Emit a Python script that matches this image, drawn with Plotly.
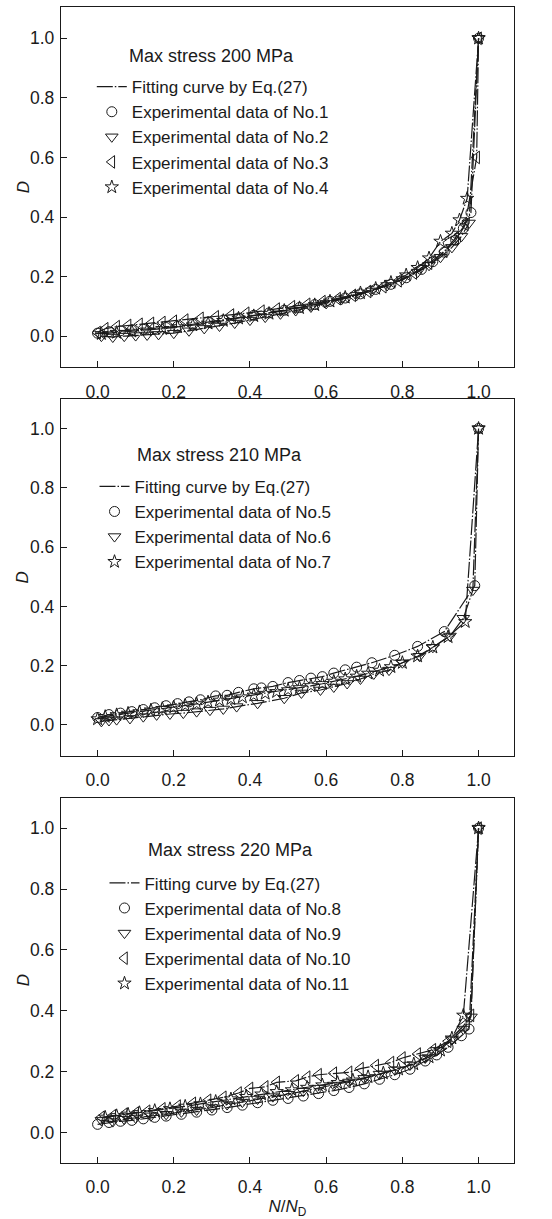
import plotly.graph_objects as go

# ---------------- data ----------------
# Panel 1: max stress 200 MPa
x_no1 = [0.00,0.03,0.06,0.09,0.12,0.15,0.18,0.21,0.25,0.29,0.33,0.37,0.41,0.45,0.49,0.53,0.57,0.61,0.65,0.69,0.73,0.77,0.81,0.85,0.88,0.91,0.94,0.96,0.98,1.00]
d_no1 = [0.010,0.015,0.018,0.020,0.023,0.026,0.029,0.033,0.040,0.047,0.054,0.061,0.070,0.078,0.087,0.096,0.106,0.117,0.128,0.142,0.157,0.174,0.196,0.224,0.250,0.282,0.322,0.362,0.415,1.00]
x_no2 = [0.01,0.04,0.07,0.10,0.13,0.16,0.20,0.24,0.28,0.32,0.36,0.40,0.44,0.48,0.52,0.56,0.60,0.64,0.68,0.72,0.76,0.80,0.84,0.87,0.90,0.93,0.955,0.975,1.00]
d_no2 = [0.000,-0.003,0.000,0.002,0.004,0.006,0.010,0.018,0.026,0.034,0.044,0.054,0.064,0.075,0.086,0.098,0.110,0.123,0.137,0.152,0.170,0.190,0.215,0.238,0.265,0.298,0.335,0.380,1.00]
x_no3 = [0.00,0.02,0.05,0.08,0.11,0.14,0.17,0.20,0.23,0.27,0.31,0.35,0.39,0.43,0.47,0.51,0.55,0.59,0.63,0.67,0.71,0.75,0.79,0.83,0.87,0.91,0.94,0.965,0.995,1.00]
d_no3 = [0.012,0.025,0.032,0.036,0.040,0.043,0.046,0.050,0.054,0.060,0.065,0.071,0.077,0.084,0.091,0.099,0.107,0.116,0.126,0.137,0.150,0.166,0.186,0.212,0.245,0.285,0.330,0.375,0.600,1.00]
x_no4 = [0.01,0.05,0.09,0.13,0.17,0.21,0.25,0.29,0.33,0.37,0.41,0.45,0.49,0.53,0.57,0.61,0.65,0.69,0.73,0.77,0.81,0.84,0.87,0.90,0.93,0.95,0.97,1.00]
d_no4 = [0.008,0.012,0.016,0.020,0.025,0.031,0.037,0.043,0.052,0.060,0.068,0.076,0.086,0.095,0.105,0.117,0.130,0.145,0.160,0.180,0.205,0.230,0.262,0.318,0.345,0.390,0.462,1.00]

# Panel 2: max stress 210 MPa
x_no5 = [0.00,0.03,0.06,0.09,0.12,0.15,0.18,0.21,0.24,0.27,0.31,0.34,0.37,0.41,0.43,0.46,0.50,0.53,0.56,0.59,0.62,0.65,0.68,0.72,0.78,0.84,0.91,0.99,1.00]
d_no5 = [0.025,0.035,0.040,0.045,0.052,0.058,0.065,0.072,0.078,0.085,0.098,0.100,0.110,0.122,0.125,0.130,0.143,0.150,0.158,0.163,0.175,0.186,0.195,0.210,0.235,0.265,0.315,0.470,1.00]
x_no6 = [0.01,0.03,0.05,0.085,0.12,0.155,0.19,0.225,0.26,0.295,0.33,0.365,0.42,0.49,0.535,0.585,0.62,0.655,0.69,0.725,0.765,0.80,0.845,0.88,0.925,0.96,0.985,1.00]
d_no6 = [0.012,0.015,0.018,0.022,0.028,0.034,0.037,0.040,0.045,0.050,0.054,0.062,0.073,0.090,0.108,0.118,0.128,0.140,0.155,0.172,0.185,0.210,0.232,0.262,0.300,0.360,0.455,1.00]
x_no7 = [0.00,0.02,0.05,0.08,0.11,0.14,0.17,0.20,0.23,0.26,0.29,0.32,0.35,0.38,0.41,0.44,0.47,0.50,0.53,0.56,0.59,0.62,0.65,0.68,0.71,0.74,0.77,0.80,0.84,0.88,0.92,0.965,1.00]
d_no7 = [0.020,0.028,0.034,0.039,0.044,0.050,0.055,0.060,0.066,0.071,0.077,0.083,0.088,0.094,0.100,0.106,0.112,0.118,0.125,0.132,0.139,0.147,0.155,0.164,0.174,0.184,0.196,0.210,0.232,0.262,0.297,0.348,1.00]

# Panel 3: max stress 220 MPa
x_no8 = [0.00,0.03,0.06,0.09,0.12,0.15,0.18,0.22,0.26,0.30,0.34,0.38,0.42,0.46,0.50,0.54,0.58,0.62,0.66,0.70,0.74,0.78,0.82,0.86,0.89,0.92,0.955,0.975,1.00]
d_no8 = [0.027,0.033,0.037,0.040,0.045,0.050,0.054,0.060,0.067,0.074,0.082,0.090,0.098,0.106,0.112,0.120,0.128,0.138,0.148,0.160,0.175,0.190,0.208,0.235,0.255,0.280,0.318,0.340,1.00]
x_no9 = [0.01,0.04,0.07,0.10,0.14,0.18,0.22,0.26,0.30,0.34,0.38,0.42,0.46,0.50,0.54,0.58,0.62,0.66,0.70,0.74,0.78,0.82,0.86,0.89,0.93,0.96,0.98,1.00]
d_no9 = [0.040,0.036,0.044,0.048,0.055,0.060,0.068,0.074,0.082,0.092,0.100,0.110,0.118,0.126,0.136,0.146,0.156,0.166,0.178,0.192,0.206,0.222,0.245,0.270,0.305,0.340,0.380,1.00]
x_no10 = [0.01,0.04,0.07,0.10,0.13,0.17,0.21,0.25,0.29,0.33,0.37,0.40,0.44,0.47,0.52,0.55,0.58,0.62,0.66,0.69,0.73,0.77,0.80,0.84,0.88,0.92,0.96,0.98,1.00]
d_no10 = [0.050,0.055,0.060,0.064,0.070,0.078,0.087,0.096,0.106,0.116,0.130,0.145,0.150,0.165,0.170,0.182,0.190,0.195,0.198,0.210,0.220,0.230,0.245,0.258,0.272,0.300,0.350,0.385,1.00]
x_no11 = [0.02,0.05,0.08,0.11,0.15,0.19,0.23,0.27,0.31,0.35,0.39,0.43,0.47,0.51,0.55,0.59,0.63,0.67,0.71,0.75,0.79,0.83,0.87,0.90,0.93,0.96,1.00]
d_no11 = [0.050,0.055,0.060,0.065,0.072,0.078,0.086,0.094,0.102,0.110,0.118,0.126,0.134,0.140,0.148,0.156,0.164,0.172,0.183,0.195,0.208,0.225,0.248,0.270,0.310,0.385,1.00]

panel_titles = ["Max stress 200 MPa", "Max stress 210 MPa", "Max stress 220 MPa"]
fit_name = "Fitting curve by Eq.(27)"
tick_vals = [0.0, 0.2, 0.4, 0.6, 0.8, 1.0]
tick_text = ["0.0", "0.2", "0.4", "0.6", "0.8", "1.0"]

panels = [
    [("No.1", x_no1, d_no1, "circle-open"),
     ("No.2", x_no2, d_no2, "triangle-down-open"),
     ("No.3", x_no3, d_no3, "triangle-left-open"),
     ("No.4", x_no4, d_no4, "star-open")],
    [("No.5", x_no5, d_no5, "circle-open"),
     ("No.6", x_no6, d_no6, "triangle-down-open"),
     ("No.7", x_no7, d_no7, "star-open")],
    [("No.8", x_no8, d_no8, "circle-open"),
     ("No.9", x_no9, d_no9, "triangle-down-open"),
     ("No.10", x_no10, d_no10, "triangle-left-open"),
     ("No.11", x_no11, d_no11, "star-open")],
]

# ---------------- layout geometry ----------------
W, H = 552, 1219
ML, MR, MT, MB = 61, 38, 6, 52
y_domains = [[0.6882, 1.0], [0.352, 0.661], [0.0, 0.316]]
y_ranges = [[-0.105, 1.105], [-0.105, 1.10], [-0.10, 1.10]]
x_range = [-0.096, 1.093]
legend_pos = [(0.068, 0.9463), (0.074, 0.6005), (0.096, 0.2575)]
title_pos = [(0.146, 0.9578), (0.1635, 0.6125), (0.188, 0.2705)]
ytitle_pos = [0.844, 0.5065, 0.158]
sizes = {"circle-open": 10, "triangle-down-open": 11, "triangle-left-open": 11, "star-open": 10}

FONT = "Liberation Sans, Arial, Helvetica, sans-serif"
INK = "#1a1a1a"

fig = go.Figure()

for i, series in enumerate(panels):
    xa = "x" if i == 0 else f"x{i+1}"
    ya = "y" if i == 0 else f"y{i+1}"
    lg = "legend" if i == 0 else f"legend{i+1}"
    # fitting curves (lines)
    for j, (name, xs, ds, sym) in enumerate(series):
        fig.add_trace(go.Scatter(
            x=xs, y=ds, mode="lines", xaxis=xa, yaxis=ya,
            line=dict(color=INK, width=1.2, dash="16px,2px,1.5px,2px"),
            name=fit_name, legend=lg, showlegend=(j == 0),
            legendrank=1, hoverinfo="skip"))
    # experimental data (markers)
    for j, (name, xs, ds, sym) in enumerate(series):
        fig.add_trace(go.Scatter(
            x=xs, y=ds, mode="markers", xaxis=xa, yaxis=ya,
            marker=dict(symbol=sym, size=sizes[sym], color=INK,
                        line=dict(width=1, color=INK)),
            name=f"Experimental data of {name}", legend=lg,
            legendrank=2 + j))

layout = dict(
    width=W, height=H,
    margin=dict(l=ML, r=MR, t=MT, b=MB),
    paper_bgcolor="white", plot_bgcolor="white",
    font=dict(family=FONT, size=17, color=INK),
    showlegend=True,
)

axis_common = dict(
    showline=True, linecolor=INK, linewidth=1.3, mirror=True,
    ticks="inside", ticklen=6, tickwidth=1.2, tickcolor=INK,
    showgrid=False, zeroline=False,
    tickvals=tick_vals, ticktext=tick_text,
    tickfont=dict(family=FONT, size=17.5, color=INK),
)

for i in range(3):
    xk = "xaxis" if i == 0 else f"xaxis{i+1}"
    yk = "yaxis" if i == 0 else f"yaxis{i+1}"
    ya = "y" if i == 0 else f"y{i+1}"
    xa = "x" if i == 0 else f"x{i+1}"
    xd = dict(axis_common, range=x_range, domain=[0, 1], anchor=ya,
              ticklabelstandoff=8)
    if i == 2:
        xd["title"] = dict(text="<i>N</i>/<i>N</i><sub>D</sub>",
                           font=dict(family=FONT, size=17, color=INK), standoff=4)
    yd = dict(axis_common, range=y_ranges[i], domain=y_domains[i], anchor=xa,
              ticklabelstandoff=2)
    layout[xk] = xd
    layout[yk] = yd
    lk = "legend" if i == 0 else f"legend{i+1}"
    layout[lk] = dict(x=legend_pos[i][0], y=legend_pos[i][1],
                      xanchor="left", yanchor="top",
                      bgcolor="rgba(0,0,0,0)", borderwidth=0,
                      font=dict(family=FONT, size=17, color=INK),
                      traceorder="normal")

fig.update_layout(**layout)

for i, t in enumerate(panel_titles):
    fig.add_annotation(text=t, xref="paper", yref="paper",
                       x=title_pos[i][0], y=title_pos[i][1],
                       xanchor="left", yanchor="middle", showarrow=False,
                       font=dict(family=FONT, size=18, color=INK))
    # y-axis title "D"
    fig.add_annotation(text="<i>D</i>", xref="paper", yref="paper",
                       x=-0.084, y=ytitle_pos[i], textangle=-90,
                       xanchor="center", yanchor="middle", showarrow=False,
                       font=dict(family=FONT, size=17, color=INK))

fig.write_html("out.html", post_script="document.body.style.margin='0px';",
               config={"displayModeBar": False})
